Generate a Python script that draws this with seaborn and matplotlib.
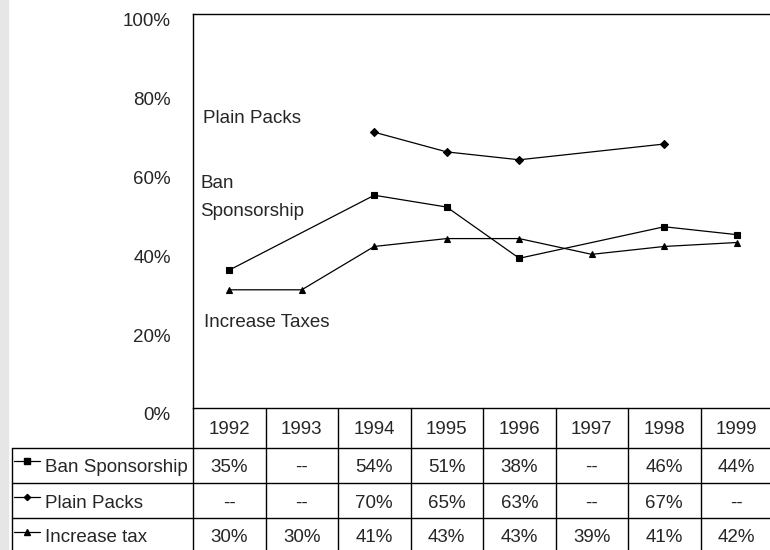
import numpy as np
import pandas as pd
import matplotlib.pyplot as plt
import seaborn as sns
from matplotlib.transforms import ScaledTranslation

years = ['1992', '1993', '1994', '1995', '1996', '1997', '1998', '1999']
ban_sponsorship = [35, None, 54, 51, 38, None, 46, 44]
plain_packs = [None, None, 70, 65, 63, None, 67, None]
increase_tax = [30, 30, 41, 43, 43, 39, 41, 42]
series_names = ['Ban Sponsorship', 'Plain Packs', 'Increase tax']
series_values = [ban_sponsorship, plain_packs, increase_tax]
y_ticks = [0, 20, 40, 60, 80, 100]

markers = ['s', 'D', '^']
marker_sizes = [4.6, 3.7, 4.6]

sns.set_style('white')
plt.rcParams['font.family'] = ['Liberation Sans', 'DejaVu Sans']

W, H = 770, 550
fig = plt.figure(figsize=(7.7, 5.5), dpi=100)
fig.patches.append(plt.Rectangle((0, 0), 8 / W, 1, transform=fig.transFigure,
                                 color='#e6e6e6', zorder=0))

left, top, bottom = 193, 14, 408
col_w = 72.5
ax = fig.add_axes([left / W, (H - bottom) / H, 8 * col_w / W, (bottom - top) / H])

# one long table, gaps dropped so the line bridges the missing years
rows = []
for name, vals in zip(series_names, series_values):
    for i, v in enumerate(vals):
        if v is not None:
            rows.append({'pos': i, 'value': v, 'series': name})
df = pd.DataFrame(rows)

for name, m, ms in zip(series_names, markers, marker_sizes):
    sub = df[df['series'] == name]
    sns.lineplot(data=sub, x='pos', y='value', marker=m, markersize=ms,
                 color='black', lw=0.9, markeredgecolor='black',
                 markeredgewidth=0.8, ax=ax)

ax.set_xlim(-0.5, 7.5)
ax.set_ylim(0, 100)
ax.set_xticks([])
ax.set_yticks(y_ticks)
ax.set_yticklabels([f'{t}%' for t in y_ticks])
ax.set_xlabel('')
ax.set_ylabel('')
ax.tick_params(axis='y', length=0, pad=16, labelsize=13.5)
for lbl in ax.get_yticklabels():
    lbl.set_transform(lbl.get_transform() + ScaledTranslation(0, -6 / 100, fig.dpi_scale_trans))
ax.spines['right'].set_visible(False)
for s in ['left', 'top', 'bottom']:
    ax.spines[s].set_color('black')
    ax.spines[s].set_linewidth(1)

ax.text(-0.36, 73.6, 'Plain Packs', fontsize=13.5, va='center')
ax.text(-0.40, 57.1, 'Ban', fontsize=13.5, va='center')
ax.text(-0.40, 50.0, 'Sponsorship', fontsize=13.5, va='center')
ax.text(-0.35, 21.6, 'Increase Taxes', fontsize=13.5, va='center')

# data table under the plot, in pixel coordinates
tab = fig.add_axes([0, 0, 1, 1])
tab.set_xlim(0, W)
tab.set_ylim(H, 0)
tab.axis('off')

fs = 13.5
lc = dict(color='black', lw=1)
for k in range(8):
    tab.plot([left + k * col_w] * 2, [bottom, H], **lc)
tab.plot([12, 12], [448, H], **lc)
for yl in [448, 483, 518]:
    tab.plot([12, W], [yl, yl], **lc)

for i, yr in enumerate(years):
    tab.text(left + (i + 0.5) * col_w, 429, yr, fontsize=fs,
             ha='center', va='center')

row_y = [467, 503, 538]
for name, vals, m, ms, ry in zip(series_names, series_values, markers, marker_sizes, row_y):
    tab.plot([14, 40], [ry - 6, ry - 6], color='black', lw=0.9)
    tab.plot([27], [ry - 6], marker=m, ms=ms * 0.85, color='black')
    tab.text(45, ry, name, fontsize=fs, ha='left', va='center')
    for i, v in enumerate(vals):
        txt = f'{v}%' if v is not None else '--'
        tab.text(left + (i + 0.5) * col_w, ry, txt, fontsize=fs,
                 ha='center', va='center')

fig.savefig('out.png', dpi=100)
